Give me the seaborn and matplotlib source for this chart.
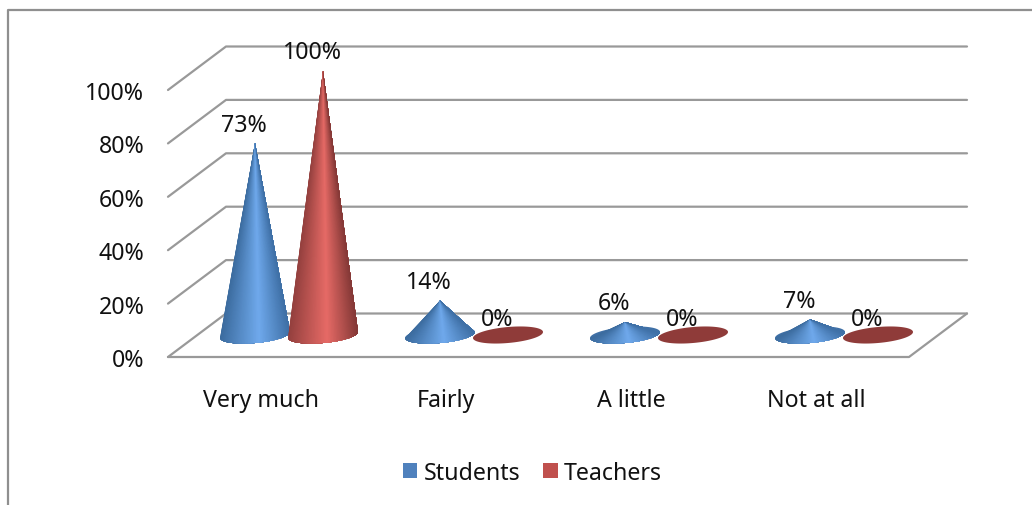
import numpy as np
import pandas as pd
import matplotlib
matplotlib.use("Agg")
import matplotlib.pyplot as plt
from matplotlib.collections import PolyCollection
from matplotlib.colors import to_rgb
from matplotlib.patches import Patch
from matplotlib.lines import Line2D
import seaborn as sns

categories = ["Very much", "Fairly", "A little", "Not at all"]
students = [73, 14, 6, 7]
teachers = [100, 0, 0, 0]
tick_values = [0, 20, 40, 60, 80, 100]
tick_labels = ["0%", "20%", "40%", "60%", "80%", "100%"]

sns.set_theme(style="white")
plt.rcParams["font.family"] = ["Noto Sans", "DejaVu Sans"]
FONT = 16.7
W, H = 1032, 506

# Axes span the chart floor and back wall; one category step is 185 px, one percent 2.67 px.
fig = plt.figure(figsize=(W / 100, H / 100), dpi=100, facecolor="white")
ax = fig.add_axes([168 / W, 1 - 358 / H, (967 - 168) / W, (358 - 48) / H])
ax.set_xlim((168 - 289) / 185, (967 - 289) / 185)
ax.set_ylim(0, 310 / 2.67)

DEPTH_X, DEPTH_Y = 58 / 185, 43.5 / 2.67
FRONT_L, BACK_R = ax.get_xlim()
FRONT_R = BACK_R - DEPTH_X
BACK_L = FRONT_L + DEPTH_X

# Wireframe of the 3D box: slanted side wall, back wall and floor outline.
rows = []
for v in tick_values:
    rows += [(f"s{v}", FRONT_L, v), (f"s{v}", BACK_L, v + DEPTH_Y),
             (f"s{v}", BACK_R, v + DEPTH_Y)]
rows += [("f", FRONT_L, 0), ("f", FRONT_R, 0), ("f", BACK_R, DEPTH_Y)]
wire = pd.DataFrame(rows, columns=["segment", "x", "y"])
sns.lineplot(data=wire, x="x", y="y", units="segment", estimator=None, sort=False,
             color="#999999", lw=1.6, ax=ax, legend=False, clip_on=False, zorder=1)

BASE = 22 / 2.67      # height of the cone bases above the front floor edge
APEX_DROP = 3 / 2.67  # perspective foreshortening of the cone height
RADIUS = 35 / 185
RY = 8 / 2.67
TILT = 3 / 2.67
OFFSET = 34 / 185


def base_point(cx, t):
    return cx + RADIUS * np.cos(t), BASE + TILT * np.cos(t) + RY * np.sin(t)


def shade(dark_l, light, dark_r, u):
    a = dark_l if u < 0.56 else dark_r
    k = 1 - abs(u - 0.56) / (0.56 if u < 0.56 else 0.44)
    return tuple(np.array(to_rgb(a)) * (1 - k) + np.array(to_rgb(light)) * k)


def draw_cone(cx, value, colors, flat):
    dark_l, light, dark_r = colors
    t = np.linspace(0, 2 * np.pi, 120)
    xs, ys = base_point(cx, t)
    if value == 0:
        ax.fill(xs, ys, color=flat, lw=0, zorder=3)
        return
    ax.fill(xs, ys, color=dark_r, lw=0, zorder=3)
    edges = np.linspace(np.pi, 2 * np.pi, 70)
    apex = (cx, BASE - APEX_DROP + value)
    # Each fan covers the rest of the front arc, painted left to right so no seams appear.
    polys, cols = [], []
    for k in range(len(edges) - 1):
        arc = edges[k:]
        px, py = base_point(cx, arc)
        polys.append([apex] + list(zip(px, py)))
        mid = (edges[k] + edges[k + 1]) / 2
        cols.append(shade(dark_l, light, dark_r, (np.cos(mid) + 1) / 2))
    ax.add_collection(PolyCollection(polys, facecolors=cols, edgecolors="none",
                                     linewidths=0, zorder=3))


def label_cone(cx, value):
    ax.annotate(f"{value}%", (cx, BASE - APEX_DROP + value),
                xytext=(-11 * 0.72, 18.5 * 0.72),
                textcoords="offset points", ha="center", va="center",
                fontsize=FONT, color="#111111", zorder=5, annotation_clip=False)


blue = ("#3c6c9f", "#6fa9ec", "#3f70a6")
red = ("#94403e", "#e66a66", "#853937")
for i, (s, te) in enumerate(zip(students, teachers)):
    draw_cone(i - OFFSET, s, blue, "#3a6ea5")
    draw_cone(i + OFFSET, te, red, "#8f3b39")
for i, (s, te) in enumerate(zip(students, teachers)):
    label_cone(i - OFFSET, s)
    label_cone(i + OFFSET, te)

# Value and category axes sit on the front edge of the box.
ax.set_xlabel("")
ax.set_ylabel("")
ax.set_yticks(tick_values, tick_labels)
ax.set_xticks(np.arange(len(categories)) - 28 / 185, categories)
ax.tick_params(axis="y", length=0, pad=17, labelsize=FONT, labelcolor="#111111")
ax.tick_params(axis="x", length=0, pad=22, labelsize=FONT, labelcolor="#111111")
for sp in ax.spines.values():
    sp.set_visible(False)
ax.patch.set_alpha(0)

# Chart-area border, open on the right and bottom.
fig.add_artist(Line2D([8 / W, 8 / W, 1], [0, 1 - 11 / H, 1 - 11 / H],
                      transform=fig.transFigure, color="#8f8f8f", lw=1.6))

palette = {"Students": "#4f81bd", "Teachers": "#c0504d"}
handles = [Patch(facecolor=c, edgecolor="none", label=k) for k, c in palette.items()]
fig.legend(handles=handles, loc="center", bbox_to_anchor=(532.5 / W, 1 - 474 / H),
           ncol=2, frameon=False, fontsize=FONT, handlelength=0.62, handleheight=0.62,
           handletextpad=0.27, columnspacing=1.0, labelcolor="#111111")

fig.savefig("out.png", dpi=100)
